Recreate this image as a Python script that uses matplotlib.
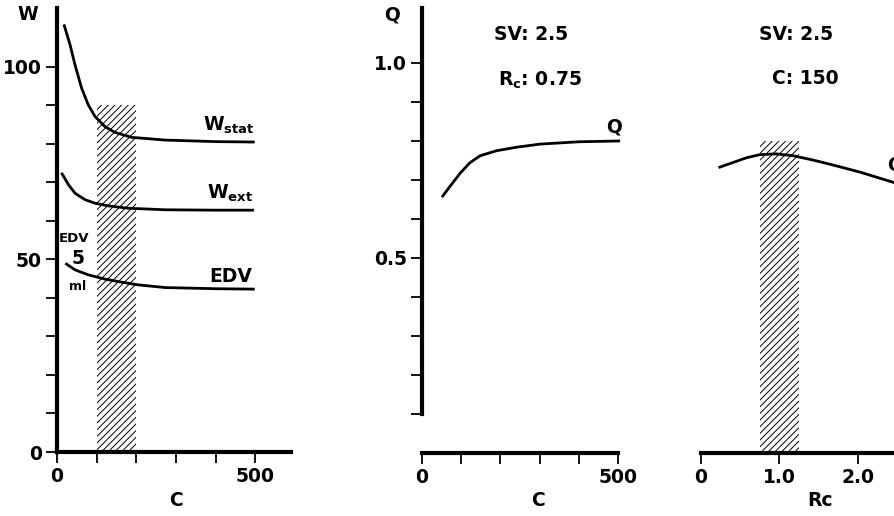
import matplotlib
matplotlib.use('Agg')
import matplotlib.pyplot as plt

plt.rcParams['font.family'] = ['DejaVu Sans']
plt.rcParams['font.weight'] = 'bold'
plt.rcParams['mathtext.fontset'] = 'custom'
plt.rcParams['mathtext.rm'] = 'DejaVu Sans:bold'
plt.rcParams['hatch.linewidth'] = 0.7

# Linke Grafik: W gegen C
c_stat = [18.5, 33, 45.5, 62, 79, 96, 121, 146, 189, 273, 400, 495]
w_stat = [110.7, 105.7, 100.5, 94.5, 90.1, 87.1, 84.5, 83.0, 81.7, 81.0, 80.6, 80.5]
c_ext = [13, 29, 45.5, 71, 96, 130, 180, 273, 400, 493]
w_ext = [72.2, 69.4, 67.2, 65.5, 64.6, 63.9, 63.3, 62.9, 62.8, 62.8]
c_edv = [24, 45.5, 79, 121, 163, 205, 273, 400, 495]
edv = [48.8, 47.3, 46.0, 44.9, 44.1, 43.4, 42.7, 42.4, 42.3]
band_c = (100, 200)
band_w_top = 90

# Mitte: Q gegen C
c_q = [53, 71, 97, 122, 148, 190, 241, 301, 400, 502]
q_c = [0.659, 0.683, 0.717, 0.744, 0.762, 0.775, 0.784, 0.792, 0.798, 0.80]

# Rechts: Q gegen Rc
rc = [0.24, 0.41, 0.58, 0.75, 0.96, 1.18, 1.43, 1.69, 2.03, 2.45, 2.6]
q_rc = [0.733, 0.745, 0.757, 0.765, 0.767, 0.762, 0.751, 0.738, 0.72, 0.694, 0.685]
band_rc = (0.75, 1.25)
band_q_top = 0.8

W, H = 894, 516
fig = plt.figure(figsize=(W / 100, H / 100), dpi=100)


def ftext(x, y, s, **kw):
    fig.text(x / W, 1 - y / H, s, ha='center', va='center', **kw)


def style(ax):
    for s in ['top', 'right']:
        ax.spines[s].set_visible(False)
    for s in ['left', 'bottom']:
        ax.spines[s].set_linewidth(3)
    ax.tick_params(which='both', direction='out', length=8, width=1.3,
                   labelsize=13.5, pad=3)


ax1 = fig.add_axes([57 / W, (H - 452) / H, 234 / W, 444 / H])
ax1.set_xlim(0, 590)
ax1.set_ylim(0, 115.3)
style(ax1)
ax1.axvspan(band_c[0], band_c[1], ymax=band_w_top / 115.3, facecolor='none',
            edgecolor='black', hatch='/////', linewidth=0)
ax1.plot(c_stat, w_stat, color='black', lw=2)
ax1.plot(c_ext, w_ext, color='black', lw=2)
ax1.plot(c_edv, edv, color='black', lw=2)
ax1.set_yticks([0, 50, 100])
ax1.set_yticks([10, 20, 30, 40, 60, 70, 80, 90], minor=True)
ax1.set_xticks([0, 100, 200, 300, 400, 500])
ax1.set_xticklabels(['0', '', '', '', '', '500'])

ax2 = fig.add_axes([422 / W, (H - 453) / H, 219.5 / W, 445 / H])
ax2.set_xlim(0, 560)
ax2.set_ylim(0, 1.141)
style(ax2)
ax2.spines['left'].set_bounds(0.1, 1.141)
ax2.spines['bottom'].set_bounds(0, 500)
ax2.plot(c_q, q_c, color='black', lw=2)
ax2.set_yticks([0.5, 1.0])
ax2.set_yticklabels(['0.5', '1.0'])
ax2.set_yticks([0.1, 0.2, 0.3, 0.4, 0.6, 0.7, 0.8, 0.9], minor=True)
ax2.set_xticks([0, 100, 200, 300, 400, 500])
ax2.set_xticklabels(['0', '', '', '', '', '500'])

ax3 = fig.add_axes([701 / W, (H - 453) / H, 204 / W, 445 / H])
ax3.set_xlim(0, 2.6)
ax3.set_ylim(0, 1.141)
style(ax3)
ax3.spines['left'].set_visible(False)
ax3.set_yticks([])
ax3.axvspan(band_rc[0], band_rc[1], ymax=band_q_top / 1.141, facecolor='none',
            edgecolor='black', hatch='/////', linewidth=0)
ax3.plot(rc, q_rc, color='black', lw=2)
ax3.set_xticks([0, 1, 2])
ax3.set_xticklabels(['0', '1.0', '2.0'])

# Beschriftungen
ftext(28, 15, 'W', fontsize=13.5)
ftext(176, 500, 'C', fontsize=13.5)
ftext(229, 125, r'W$_{\mathrm{stat}}$', fontsize=13.5)
ftext(230, 193, r'W$_{\mathrm{ext}}$', fontsize=13.5)
ftext(231, 276, 'EDV', fontsize=13.5)
ftext(74, 239, 'EDV', fontsize=9.5)
ftext(78, 258, '5', fontsize=13.5)
ftext(78, 287, 'ml', fontsize=9)

ftext(392, 15, 'Q', fontsize=13.5)
ftext(538, 500, 'C', fontsize=13.5)
ftext(531, 35, 'SV: 2.5', fontsize=13.5)
ftext(540, 80, r'R$_{\mathrm{c}}$: 0.75', fontsize=13.5)
ftext(614, 127, 'Q', fontsize=13.5)

ftext(820, 500, 'Rc', fontsize=13.5)
ftext(796, 34, 'SV: 2.5', fontsize=13.5)
ftext(805, 79, 'C: 150', fontsize=13.5)
fig.text(887 / W, 1 - 165 / H, 'Q', ha='left', va='center', fontsize=13.5)

fig.savefig('out.png', dpi=100)
